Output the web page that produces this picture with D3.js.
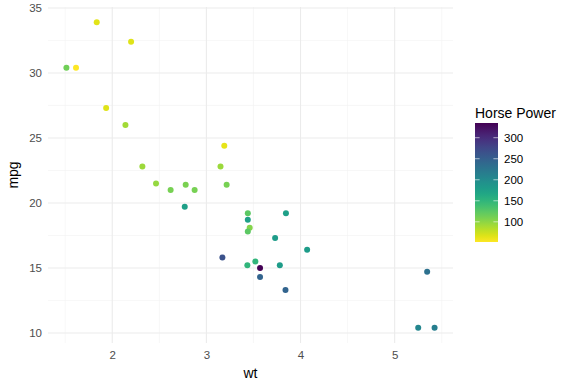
<!DOCTYPE html>
<html lang="en">
<head>
    <meta charset="UTF-8">
    <title>mtcars - wt vs mpg</title>
    <script src="https://cdn.jsdelivr.net/npm/d3@7"></script>
    <style>
        body { margin: 0; background: #fff; }
        text { font-family: "Liberation Sans", Arial, sans-serif; }
    </style>
</head>
<body>
<script>
    'use strict';

    // mtcars: weight (1000 lbs), miles per gallon, horse power
    var wt  = [2.620, 2.875, 2.320, 3.215, 3.440, 3.460, 3.570, 3.190, 3.150, 3.440, 3.440,
               4.070, 3.730, 3.780, 5.250, 5.424, 5.345, 2.200, 1.615, 1.835, 2.465, 3.520,
               3.435, 3.840, 3.845, 1.935, 2.140, 1.513, 3.170, 2.770, 3.570, 2.780];
    var mpg = [21.0, 21.0, 22.8, 21.4, 18.7, 18.1, 14.3, 24.4, 22.8, 19.2, 17.8,
               16.4, 17.3, 15.2, 10.4, 10.4, 14.7, 32.4, 30.4, 33.9, 21.5, 15.5,
               15.2, 13.3, 19.2, 27.3, 26.0, 30.4, 15.8, 19.7, 15.0, 21.4];
    var hp  = [110, 110, 93, 110, 175, 105, 245, 62, 95, 123, 123,
               180, 180, 180, 205, 215, 230, 66, 52, 65, 97, 150,
               150, 245, 175, 66, 91, 113, 264, 175, 335, 109];
    var xTicks = [2, 3, 4, 5];
    var yTicks = [10, 15, 20, 25, 30, 35];
    var hpTicks = [100, 150, 200, 250, 300];

    var W = 576, H = 384;
    var pLeft = 48, pRight = 453, pTop = 7, pBottom = 343;

    var svg = d3.select('body').append('svg')
        .attr('width', W)
        .attr('height', H);

    var xExt = d3.extent(wt), yExt = d3.extent(mpg);
    var xPad = (xExt[1] - xExt[0]) * 0.05, yPad = (yExt[1] - yExt[0]) * 0.05;

    var x = d3.scaleLinear().domain([xExt[0] - xPad, xExt[1] + xPad]).range([pLeft, pRight]);
    var y = d3.scaleLinear().domain([yExt[0] - yPad, yExt[1] + yPad]).range([pBottom, pTop]);
    var col = d3.scaleSequential(function(t) { return d3.interpolateViridis(1 - t); })
        .domain(d3.extent(hp));

    // grid: minor then major
    var xMinor = [1.5, 2.5, 3.5, 4.5, 5.5];
    var yMinor = [12.5, 17.5, 22.5, 27.5, 32.5];
    var grid = svg.append('g');
    grid.selectAll('.xm').data(xMinor).enter().append('line')
        .attr('x1', d => x(d)).attr('x2', d => x(d))
        .attr('y1', pTop).attr('y2', pBottom)
        .attr('stroke', '#f2f2f2').attr('stroke-width', 0.6);
    grid.selectAll('.ym').data(yMinor).enter().append('line')
        .attr('y1', d => y(d)).attr('y2', d => y(d))
        .attr('x1', pLeft).attr('x2', pRight)
        .attr('stroke', '#f2f2f2').attr('stroke-width', 0.6);
    grid.selectAll('.xM').data(xTicks).enter().append('line')
        .attr('x1', d => x(d)).attr('x2', d => x(d))
        .attr('y1', pTop).attr('y2', pBottom)
        .attr('stroke', '#ebebeb').attr('stroke-width', 1.1);
    grid.selectAll('.yM').data(yTicks).enter().append('line')
        .attr('y1', d => y(d)).attr('y2', d => y(d))
        .attr('x1', pLeft).attr('x2', pRight)
        .attr('stroke', '#ebebeb').attr('stroke-width', 1.1);

    // axes (labels only, theme_minimal)
    var axB = svg.append('g')
        .attr('transform', 'translate(0,' + pBottom + ')')
        .call(d3.axisBottom(x).tickValues(xTicks).tickFormat(d3.format('d')).tickSize(0).tickPadding(8));
    var axL = svg.append('g')
        .attr('transform', 'translate(' + pLeft + ',0)')
        .call(d3.axisLeft(y).tickValues(yTicks).tickFormat(d3.format('d')).tickSize(0).tickPadding(6));
    [axB, axL].forEach(function(a) {
        a.select('.domain').remove();
        a.selectAll('text').attr('fill', '#4d4d4d').style('font-size', '11.5px')
            .style('font-family', '"Liberation Sans", Arial, sans-serif');
    });

    svg.append('text')
        .attr('x', (pLeft + pRight) / 2).attr('y', 378)
        .attr('text-anchor', 'middle')
        .style('font-size', '14px')
        .text('wt');
    svg.append('text')
        .attr('transform', 'translate(18,' + (pTop + pBottom) / 2 + ') rotate(-90)')
        .attr('text-anchor', 'middle')
        .style('font-size', '14px')
        .text('mpg');

    // points
    svg.append('g').selectAll('circle')
        .data(d3.range(wt.length))
        .enter().append('circle')
        .attr('cx', i => x(wt[i]))
        .attr('cy', i => y(mpg[i]))
        .attr('r', 3)
        .attr('fill', i => col(hp[i]));

    // legend colour bar
    var lgX = 475, lgW = 23;
    var ly = d3.scaleLinear().domain(d3.extent(hp)).range([242, 123]);
    var defs = svg.append('defs');
    var grad = defs.append('linearGradient')
        .attr('id', 'hpgrad')
        .attr('x1', 0).attr('y1', 1).attr('x2', 0).attr('y2', 0);
    d3.range(0, 1.0001, 0.05).forEach(function(t) {
        grad.append('stop')
            .attr('offset', t)
            .attr('stop-color', col(col.domain()[0] + t * (col.domain()[1] - col.domain()[0])));
    });
    svg.append('text')
        .attr('x', lgX).attr('y', 118)
        .style('font-size', '14px')
        .text('Horse Power');
    svg.append('rect')
        .attr('x', lgX).attr('y', ly.range()[1])
        .attr('width', lgW).attr('height', ly.range()[0] - ly.range()[1])
        .attr('fill', 'url(#hpgrad)');
    var lg = svg.append('g');
    lg.selectAll('.tl').data(hpTicks).enter().append('line')
        .attr('x1', lgX).attr('x2', lgX + 4.6)
        .attr('y1', d => ly(d)).attr('y2', d => ly(d))
        .attr('stroke', '#fff').attr('stroke-width', 0.6);
    lg.selectAll('.tr').data(hpTicks).enter().append('line')
        .attr('x1', lgX + lgW - 4.6).attr('x2', lgX + lgW)
        .attr('y1', d => ly(d)).attr('y2', d => ly(d))
        .attr('stroke', '#fff').attr('stroke-width', 0.6);
    lg.selectAll('text').data(hpTicks).enter().append('text')
        .attr('x', lgX + lgW + 6).attr('y', d => ly(d))
        .attr('dy', '0.35em')
        .style('font-size', '11.5px')
        .attr('fill', '#000')
        .text(d => d);
</script>
</body>
</html>
